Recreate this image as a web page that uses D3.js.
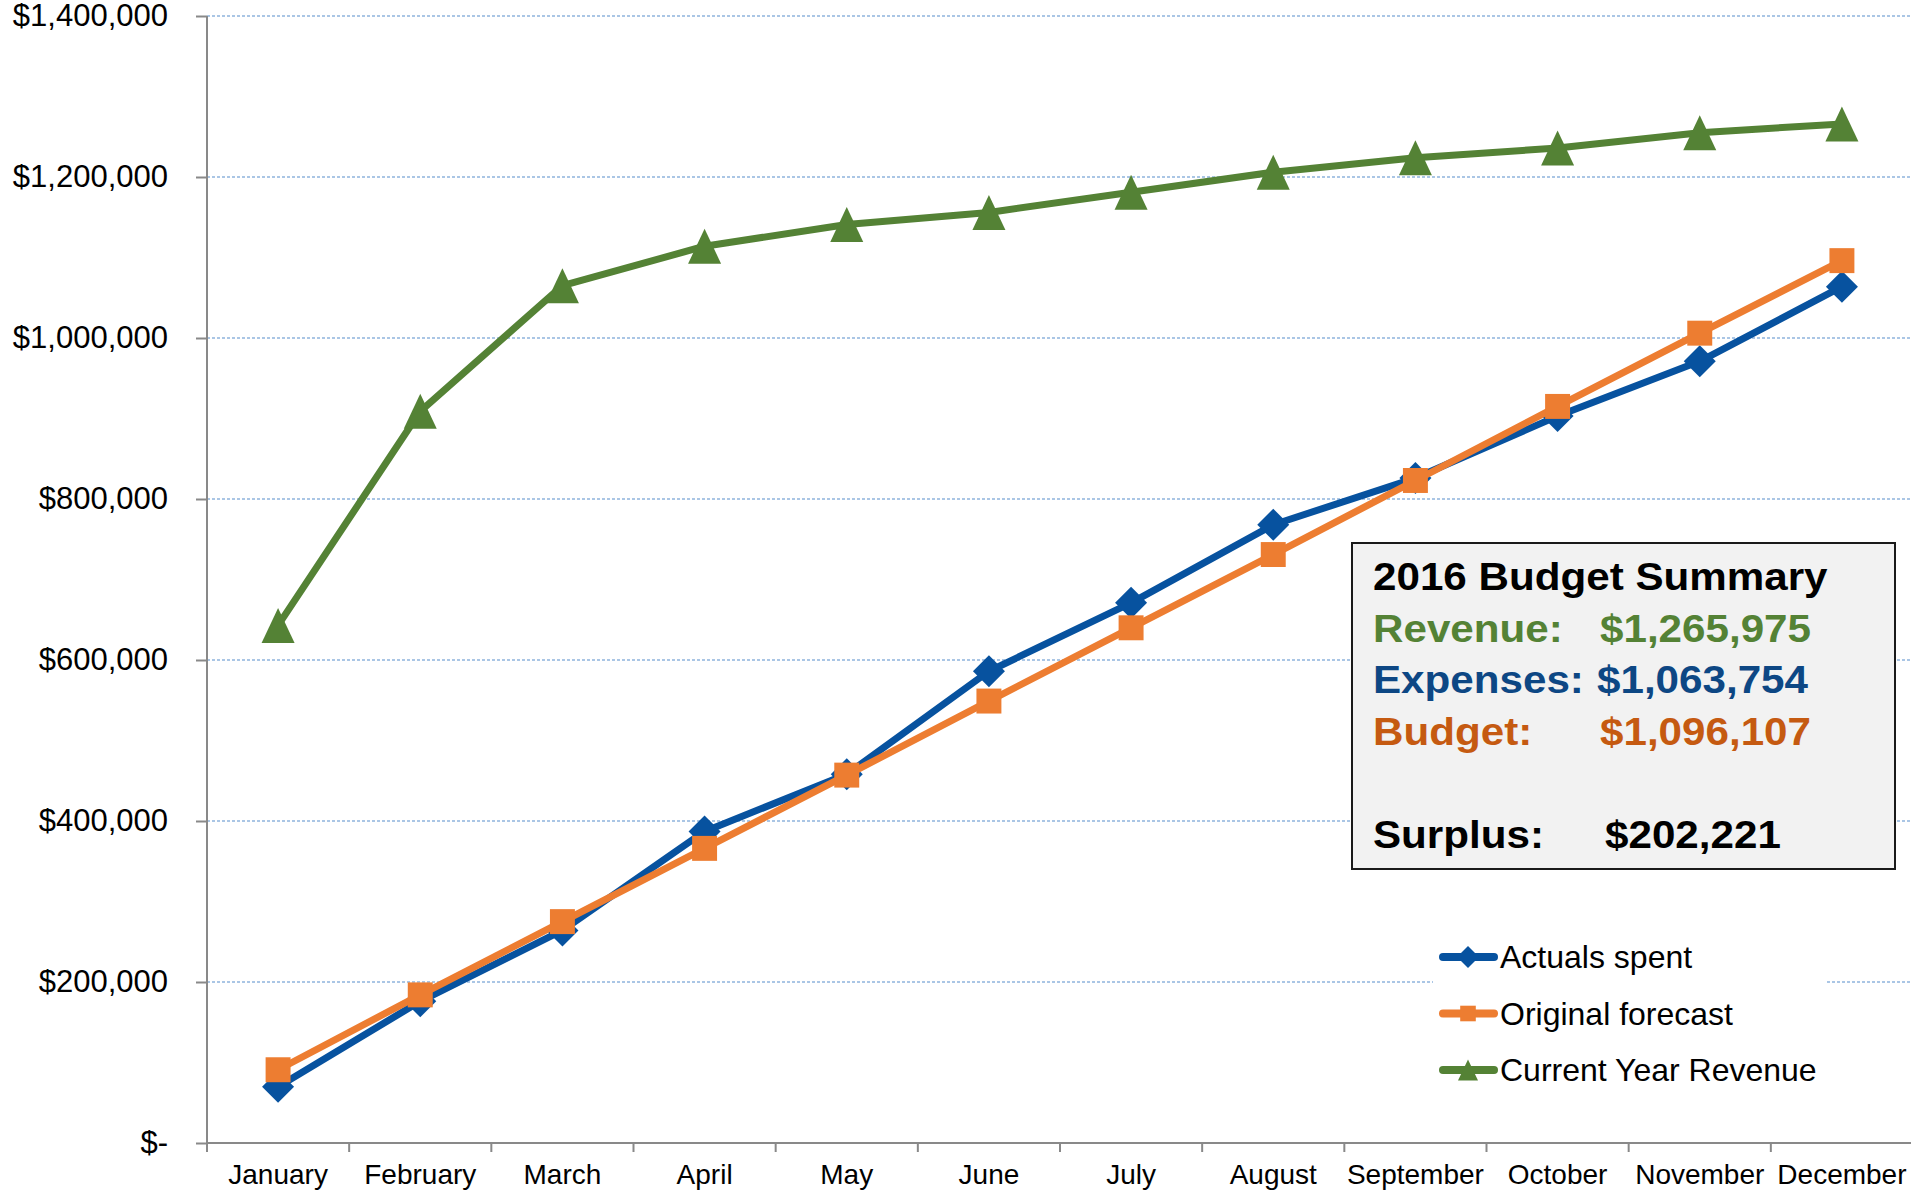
<!DOCTYPE html>
<meta charset="utf-8">
<style>
body { margin: 0; background: #fff; }
svg { display: block; font-family: "Liberation Sans", Arial, sans-serif; }
.grid line { stroke: #8fb4dd; stroke-width: 1.5; stroke-dasharray: 3,2; }
.axis path, .axis line { stroke: #898989; stroke-width: 2; }
.axis text { fill: #000; }
</style>
<svg width="1911" height="1193"></svg>
<script src="https://d3js.org/d3.v7.min.js"></script>
<script>

let months = ["January", "February", "March", "April", "May", "June",
  "July", "August", "September", "October", "November", "December"];
let actuals = [70000, 176000, 264000, 387000, 458000, 586000, 671000, 768000, 826000, 903000, 971000, 1063754];
let forecast = [91000, 184000, 275000, 366000, 457000, 549000, 640000, 731000, 823000, 915000, 1006000, 1096107];
let revenue = [643000, 909000, 1065000, 1114000, 1141000, 1156000, 1181000, 1206000, 1224000, 1236000, 1255000, 1265975];
let yTicks = [0, 200000, 400000, 600000, 800000, 1000000, 1200000, 1400000];

let series = [
  {name: "Actuals spent", values: actuals, color: "#07529f", marker: "diamond"},
  {name: "Original forecast", values: forecast, color: "#ed7d31", marker: "square"},
  {name: "Current Year Revenue", values: revenue, color: "#548235", marker: "triangle"}
];

let summary = [
  {label: "2016 Budget Summary", value: "", color: "#000"},
  {label: "Revenue:", value: "$1,265,975", color: "#548235", vx: 1600},
  {label: "Expenses:", value: "$1,063,754", color: "#0d4784", vx: 1597},
  {label: "Budget:", value: "$1,096,107", color: "#c55a11", vx: 1600},
  {label: "", value: "", color: "#000"},
  {label: "Surplus:", value: "$202,221", color: "#000", vx: 1605}
];

let svg = d3.select("svg"),
  width = +svg.attr("width"),
  height = +svg.attr("height");

let left = 207, bottom = 1143;

let x = d3.scaleBand().domain(months).range([left, 1913]);
let y = d3.scaleLinear().domain([0, 1400000]).range([bottom, 16]);

// marker shapes, drawn around 0,0
function markerPath(type, s) {
  if (type === "diamond") return "M0," + (-s) + "L" + s + ",0L0," + s + "L" + (-s) + ",0Z";
  if (type === "square") return "M" + (-s * 0.78) + "," + (-s * 0.78) + "h" + (s * 1.56) + "v" + (s * 1.56) + "h" + (-s * 1.56) + "Z";
  return "M0," + (-s * 1.06) + "L" + s + "," + (s * 1.06) + "L" + (-s) + "," + (s * 1.06) + "Z";
}

// gridlines
svg.append("g")
  .attr("class", "grid")
  .selectAll("line")
  .data(yTicks.filter(d => d > 0))
  .enter()
  .append("line")
  .attr("x1", left).attr("x2", width)
  .attr("y1", d => y(d)).attr("y2", d => y(d));

// y axis
let yAxis = svg.append("g")
  .attr("class", "axis")
  .attr("transform", "translate(" + left + ",0)")
  .call(d3.axisLeft(y)
    .tickValues(yTicks)
    .tickSize(11)
    .tickSizeOuter(0)
    .tickPadding(28)
    .tickFormat(d => d === 0 ? "$-" : d3.format("$,")(d)));
yAxis.select(".domain").attr("d", "M0," + y(1400000) + "V" + bottom);
yAxis.selectAll("text").style("font-size", "31px").style("font-family", "Liberation Sans, Arial, sans-serif");

// x axis: labels centred in bands, ticks on band edges
let xAxis = svg.append("g")
  .attr("class", "axis")
  .attr("transform", "translate(0," + bottom + ")")
  .call(d3.axisBottom(x).tickSize(0).tickPadding(21));
xAxis.select(".domain").attr("d", "M" + left + ",0H" + width);
xAxis.selectAll("text").style("font-size", "28px").style("font-family", "Liberation Sans, Arial, sans-serif");
xAxis.selectAll(".edge")
  .data(d3.range(months.length + 1))
  .enter()
  .append("line")
  .attr("class", "edge")
  .attr("x1", i => left + i * x.step())
  .attr("x2", i => left + i * x.step())
  .attr("y1", 0).attr("y2", 9);

// series lines and markers
let line = d3.line()
  .x((d, i) => x(months[i]) + x.bandwidth() / 2)
  .y(d => y(d));

let sizes = {diamond: 16, square: 16, triangle: 16.5};

series.forEach(function(s) {
  svg.append("path")
    .attr("d", line(s.values))
    .attr("fill", "none")
    .attr("stroke", s.color)
    .attr("stroke-width", 7)
    .attr("stroke-linejoin", "round");
  svg.append("g")
    .selectAll("path")
    .data(s.values)
    .enter()
    .append("path")
    .attr("transform", (d, i) => "translate(" + (x(months[i]) + x.bandwidth() / 2) + "," + y(d) + ")")
    .attr("d", markerPath(s.marker, sizes[s.marker]))
    .attr("fill", s.color);
});

// summary box
let box = svg.append("g");
box.append("rect")
  .attr("x", 1352).attr("y", 543)
  .attr("width", 543).attr("height", 326)
  .attr("fill", "#f2f2f2")
  .attr("stroke", "#1a1a1a")
  .attr("stroke-width", 2);
let sx = 1.11;
let boxText = box.append("g")
  .attr("transform", "translate(1373,0) scale(" + sx + ",1)")
  .style("font-size", "38px")
  .style("font-weight", "bold");
summary.forEach(function(r, i) {
  let by = 590 + i * 51.6;
  boxText.append("text").attr("x", 0).attr("y", by).attr("fill", r.color).text(r.label);
  if (r.value) {
    boxText.append("text").attr("x", (r.vx - 1373) / sx).attr("y", by).attr("fill", r.color).text(r.value);
  }
});

// legend
let legend = svg.append("g");
legend.append("rect")
  .attr("x", 1433).attr("y", 925)
  .attr("width", 394).attr("height", 175)
  .attr("fill", "#fff");
let legendSizes = {diamond: 11, square: 10, triangle: 10};
series.forEach(function(s, i) {
  let ly = 957 + i * 56.5;
  let item = legend.append("g").attr("transform", "translate(0," + ly + ")");
  item.append("line")
    .attr("x1", 1443).attr("x2", 1494)
    .attr("stroke", s.color)
    .attr("stroke-width", 8)
    .attr("stroke-linecap", "round");
  item.append("path")
    .attr("transform", "translate(1468,0)")
    .attr("d", markerPath(s.marker, legendSizes[s.marker]))
    .attr("fill", s.color);
  item.append("text")
    .attr("x", 1500).attr("y", 11)
    .style("font-size", "32px")
    .text(s.name);
});

</script>
